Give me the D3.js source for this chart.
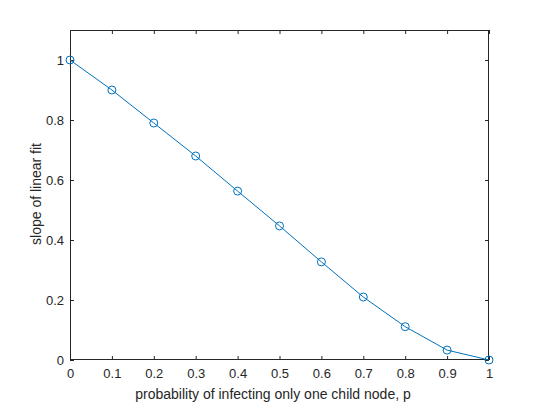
<!DOCTYPE html>
<html><head><meta charset="utf-8">
<script src="https://cdn.jsdelivr.net/npm/d3@7"></script>
<style>body{margin:0;background:#fff}text{font-family:"Liberation Sans",Arial,sans-serif}</style>
</head><body><svg id="c" width="540" height="405"></svg>
<script>
const pValues = [0,0.1,0.2,0.3,0.4,0.5,0.6,0.7,0.8,0.9,1];
const slopeValues = [1.0,0.9,0.79,0.68,0.563,0.447,0.327,0.21,0.111,0.033,0.0];
const xTicks = [0,0.1,0.2,0.3,0.4,0.5,0.6,0.7,0.8,0.9,1];
const yTicks = [0,0.2,0.4,0.6,0.8,1];
const xLabel = "probability of infecting only one child node, p";
const yLabel = "slope of linear fit";

const svg = d3.select("#c");
const L=70,R=489,T=30,B=360;
const x = d3.scaleLinear().domain([0,1]).range([L,R]);
const y = d3.scaleLinear().domain([0,1.1]).range([B,T]);
const axisColor="#262626";
const fmt = d => d3.format("~g")(d);

function style(g){
  g.select(".domain").remove();
  g.selectAll("line").attr("stroke",axisColor).attr("stroke-width",1);
  g.selectAll("text").attr("fill",axisColor).style("font-size","13px");
}
svg.append("g").attr("transform",`translate(0,${B})`)
  .call(d3.axisBottom(x).tickValues(xTicks).tickFormat(fmt).tickSizeInner(-4).tickSizeOuter(0).tickPadding(9))
  .call(style);
svg.append("g").attr("transform",`translate(0,${T})`)
  .call(d3.axisTop(x).tickValues(xTicks).tickFormat("").tickSizeInner(-4).tickSizeOuter(0))
  .call(style);
svg.append("g").attr("transform",`translate(${L},0)`)
  .call(d3.axisLeft(y).tickValues(yTicks).tickFormat(fmt).tickSizeInner(-4).tickSizeOuter(0).tickPadding(6))
  .call(style);
svg.append("g").attr("transform",`translate(${R},0)`)
  .call(d3.axisRight(y).tickValues(yTicks).tickFormat("").tickSizeInner(-4).tickSizeOuter(0))
  .call(style);

svg.append("rect").attr("x",L+0.5).attr("y",T+0.5).attr("width",R-L-1).attr("height",B-T-1)
  .attr("fill","none").attr("stroke",axisColor).attr("stroke-width",1);

const data = pValues.map((p,i)=>({p,s:slopeValues[i]}));
svg.append("path").datum(data)
  .attr("d",d3.line().x(d=>x(d.p)).y(d=>y(d.s)))
  .attr("fill","none").attr("stroke","#0072BD").attr("stroke-width",1);
svg.selectAll("circle.m").data(data).enter().append("circle")
  .attr("cx",d=>x(d.p)).attr("cy",d=>y(d.s)).attr("r",4)
  .attr("fill","none").attr("stroke","#0072BD").attr("stroke-width",1);

svg.append("text").attr("x",273).attr("y",399).attr("text-anchor","middle")
  .attr("fill",axisColor).style("font-size","14px").text(xLabel);
svg.append("text").attr("transform",`translate(41,194) rotate(-90)`).attr("text-anchor","middle")
  .attr("fill",axisColor).style("font-size","14px").text(yLabel);
</script></body></html>
